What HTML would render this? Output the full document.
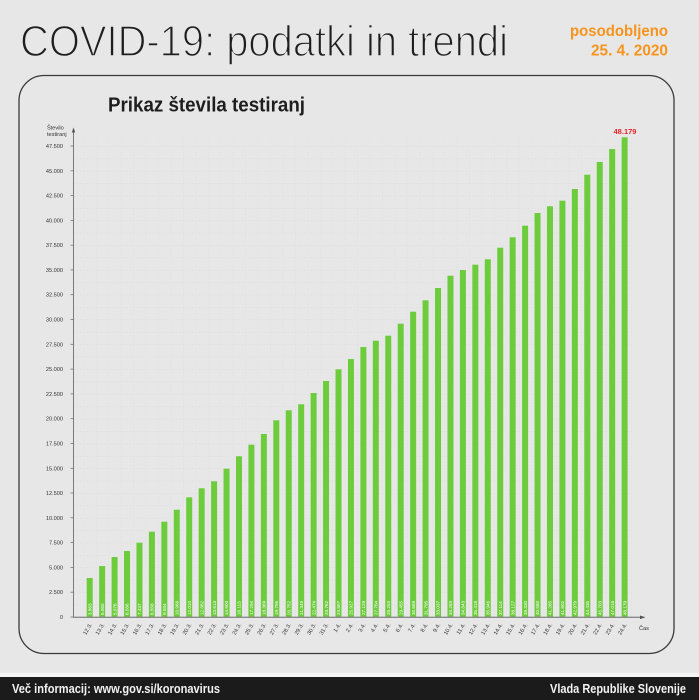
<!DOCTYPE html>
<html><head><meta charset="utf-8"><style>
html,body{margin:0;padding:0;background:#e7e7e7;}
svg{display:block;}
text{font-family:"Liberation Sans",sans-serif;}
.v{font-size:4.6px;fill:#ffffff;}
.d{font-size:5.6px;fill:#333;text-anchor:end;}
.y{font-size:5.6px;fill:#333;text-anchor:end;}
.b rect{fill:#6dcc3c;}
</style></head><body>
<svg width="699" height="700" viewBox="0 0 699 700" xmlns="http://www.w3.org/2000/svg">
<defs>
<pattern id="gp" patternUnits="userSpaceOnUse" x="95.92" y="617" width="12.44" height="12.395">
<line x1="0" y1="0.3" x2="12.44" y2="0.3" stroke="#d3d3d3" stroke-width="0.7" stroke-dasharray="0.8,2.3"/>
<line x1="0.3" y1="0" x2="0.3" y2="12.395" stroke="#d8d8d8" stroke-width="0.6" stroke-dasharray="0.8,2.3"/>
</pattern>
</defs>
<rect x="0" y="0" width="699" height="700" fill="#e7e7e7"/>

<!-- Header -->
<text x="20" y="56" font-size="44" fill="#1e1e1e" stroke="#e7e7e7" stroke-width="1.5" textLength="488" lengthAdjust="spacingAndGlyphs">COVID-19: podatki in trendi</text>
<text x="668" y="36" font-size="16" font-weight="bold" fill="#f7941d" text-anchor="end" textLength="98" lengthAdjust="spacingAndGlyphs">posodobljeno</text>
<text x="668" y="55.5" font-size="16" font-weight="bold" fill="#f7941d" text-anchor="end" textLength="77" lengthAdjust="spacingAndGlyphs">25. 4. 2020</text>

<!-- Card -->
<rect x="19" y="75.5" width="655" height="578" rx="25" ry="25" fill="none" stroke="#3a3a3a" stroke-width="1.3"/>
<text x="108" y="111.5" font-size="20" font-weight="bold" fill="#1e1e1e" textLength="197" lengthAdjust="spacingAndGlyphs">Prikaz števila testiranj</text>

<!-- Grid -->
<rect x="74" y="140" width="562" height="477" fill="url(#gp)"/>

<!-- Y axis -->
<line x1="73.5" y1="617" x2="73.5" y2="131" stroke="#7a7a7a" stroke-width="1"/>
<polygon points="73.5,127.5 71.8,132.5 75.2,132.5" fill="#555"/>
<text x="47" y="129.5" font-size="5.6" fill="#333">Število</text>
<text x="47" y="136" font-size="5.6" fill="#333">testiranj</text>
<g stroke="#777" stroke-width="0.8">
<line x1="70.5" y1="617" x2="73.5" y2="617"/><line x1="70.5" y1="592.2" x2="73.5" y2="592.2"/><line x1="70.5" y1="567.4" x2="73.5" y2="567.4"/><line x1="70.5" y1="542.6" x2="73.5" y2="542.6"/><line x1="70.5" y1="517.8" x2="73.5" y2="517.8"/><line x1="70.5" y1="493" x2="73.5" y2="493"/><line x1="70.5" y1="468.3" x2="73.5" y2="468.3"/><line x1="70.5" y1="443.5" x2="73.5" y2="443.5"/><line x1="70.5" y1="418.7" x2="73.5" y2="418.7"/><line x1="70.5" y1="393.9" x2="73.5" y2="393.9"/><line x1="70.5" y1="369.1" x2="73.5" y2="369.1"/><line x1="70.5" y1="344.3" x2="73.5" y2="344.3"/><line x1="70.5" y1="319.5" x2="73.5" y2="319.5"/><line x1="70.5" y1="294.7" x2="73.5" y2="294.7"/><line x1="70.5" y1="269.9" x2="73.5" y2="269.9"/><line x1="70.5" y1="245.2" x2="73.5" y2="245.2"/><line x1="70.5" y1="220.4" x2="73.5" y2="220.4"/><line x1="70.5" y1="195.6" x2="73.5" y2="195.6"/><line x1="70.5" y1="170.8" x2="73.5" y2="170.8"/><line x1="70.5" y1="146" x2="73.5" y2="146"/>
</g>
<g class="y">
<text x="63" y="619">0</text>
<text x="63" y="594.2">2.500</text>
<text x="63" y="569.4">5.000</text>
<text x="63" y="544.6">7.500</text>
<text x="63" y="519.8">10.000</text>
<text x="63" y="495">12.500</text>
<text x="63" y="470.3">15.000</text>
<text x="63" y="445.5">17.500</text>
<text x="63" y="420.7">20.000</text>
<text x="63" y="395.9">22.500</text>
<text x="63" y="371.1">25.000</text>
<text x="63" y="346.3">27.500</text>
<text x="63" y="321.5">30.000</text>
<text x="63" y="296.7">32.500</text>
<text x="63" y="271.9">35.000</text>
<text x="63" y="247.2">37.500</text>
<text x="63" y="222.4">40.000</text>
<text x="63" y="197.6">42.500</text>
<text x="63" y="172.8">45.000</text>
<text x="63" y="148">47.500</text>
</g>

<!-- Bars -->
<g class="b">
<g transform="translate(89.7,0)"><rect x="-3" y="578" width="6" height="39"/><text class="v" transform="translate(1.7,615) rotate(-90)">3.863</text><text class="d" transform="translate(2.5,624.5) rotate(-60)">12.3.</text></g>
<g transform="translate(102.14,0)"><rect x="-3" y="566" width="6" height="51"/><text class="v" transform="translate(1.7,615) rotate(-90)">5.060</text><text class="d" transform="translate(2.5,624.5) rotate(-60)">13.3.</text></g>
<g transform="translate(114.58,0)"><rect x="-3" y="557" width="6" height="60"/><text class="v" transform="translate(1.7,615) rotate(-90)">5.976</text><text class="d" transform="translate(2.5,624.5) rotate(-60)">14.3.</text></g>
<g transform="translate(127.02,0)"><rect x="-3" y="551" width="6" height="66"/><text class="v" transform="translate(1.7,615) rotate(-90)">6.566</text><text class="d" transform="translate(2.5,624.5) rotate(-60)">15.3.</text></g>
<g transform="translate(139.46,0)"><rect x="-3" y="542.7" width="6" height="74.3"/><text class="v" transform="translate(1.7,615) rotate(-90)">7.437</text><text class="d" transform="translate(2.5,624.5) rotate(-60)">16.3.</text></g>
<g transform="translate(151.9,0)"><rect x="-3" y="531.7" width="6" height="85.3"/><text class="v" transform="translate(1.7,615) rotate(-90)">8.558</text><text class="d" transform="translate(2.5,624.5) rotate(-60)">17.3.</text></g>
<g transform="translate(164.34,0)"><rect x="-3" y="521.7" width="6" height="95.3"/><text class="v" transform="translate(1.7,615) rotate(-90)">9.584</text><text class="d" transform="translate(2.5,624.5) rotate(-60)">18.3.</text></g>
<g transform="translate(176.78,0)"><rect x="-3" y="509.7" width="6" height="107.3"/><text class="v" transform="translate(1.7,615) rotate(-90)">10.968</text><text class="d" transform="translate(2.5,624.5) rotate(-60)">19.3.</text></g>
<g transform="translate(189.22,0)"><rect x="-3" y="497.3" width="6" height="119.7"/><text class="v" transform="translate(1.7,615) rotate(-90)">12.010</text><text class="d" transform="translate(2.5,624.5) rotate(-60)">20.3.</text></g>
<g transform="translate(201.66,0)"><rect x="-3" y="488.3" width="6" height="128.7"/><text class="v" transform="translate(1.7,615) rotate(-90)">12.882</text><text class="d" transform="translate(2.5,624.5) rotate(-60)">21.3.</text></g>
<g transform="translate(214.1,0)"><rect x="-3" y="481.3" width="6" height="135.7"/><text class="v" transform="translate(1.7,615) rotate(-90)">13.613</text><text class="d" transform="translate(2.5,624.5) rotate(-60)">22.3.</text></g>
<g transform="translate(226.54,0)"><rect x="-3" y="468.7" width="6" height="148.3"/><text class="v" transform="translate(1.7,615) rotate(-90)">14.800</text><text class="d" transform="translate(2.5,624.5) rotate(-60)">23.3.</text></g>
<g transform="translate(238.98,0)"><rect x="-3" y="456.3" width="6" height="160.7"/><text class="v" transform="translate(1.7,615) rotate(-90)">16.113</text><text class="d" transform="translate(2.5,624.5) rotate(-60)">24.3.</text></g>
<g transform="translate(251.42,0)"><rect x="-3" y="444.7" width="6" height="172.3"/><text class="v" transform="translate(1.7,615) rotate(-90)">17.294</text><text class="d" transform="translate(2.5,624.5) rotate(-60)">25.3.</text></g>
<g transform="translate(263.86,0)"><rect x="-3" y="434" width="6" height="183"/><text class="v" transform="translate(1.7,615) rotate(-90)">18.369</text><text class="d" transform="translate(2.5,624.5) rotate(-60)">26.3.</text></g>
<g transform="translate(276.3,0)"><rect x="-3" y="420.3" width="6" height="196.7"/><text class="v" transform="translate(1.7,615) rotate(-90)">19.756</text><text class="d" transform="translate(2.5,624.5) rotate(-60)">27.3.</text></g>
<g transform="translate(288.74,0)"><rect x="-3" y="410.3" width="6" height="206.7"/><text class="v" transform="translate(1.7,615) rotate(-90)">20.752</text><text class="d" transform="translate(2.5,624.5) rotate(-60)">28.3.</text></g>
<g transform="translate(301.18,0)"><rect x="-3" y="404.3" width="6" height="212.7"/><text class="v" transform="translate(1.7,615) rotate(-90)">21.349</text><text class="d" transform="translate(2.5,624.5) rotate(-60)">29.3.</text></g>
<g transform="translate(313.62,0)"><rect x="-3" y="393" width="6" height="224"/><text class="v" transform="translate(1.7,615) rotate(-90)">22.474</text><text class="d" transform="translate(2.5,624.5) rotate(-60)">30.3.</text></g>
<g transform="translate(326.06,0)"><rect x="-3" y="381" width="6" height="236"/><text class="v" transform="translate(1.7,615) rotate(-90)">23.762</text><text class="d" transform="translate(2.5,624.5) rotate(-60)">31.3.</text></g>
<g transform="translate(338.5,0)"><rect x="-3" y="369.3" width="6" height="247.7"/><text class="v" transform="translate(1.7,615) rotate(-90)">24.857</text><text class="d" transform="translate(2.5,624.5) rotate(-60)">1.4.</text></g>
<g transform="translate(350.94,0)"><rect x="-3" y="359" width="6" height="258"/><text class="v" transform="translate(1.7,615) rotate(-90)">25.927</text><text class="d" transform="translate(2.5,624.5) rotate(-60)">2.4.</text></g>
<g transform="translate(363.38,0)"><rect x="-3" y="347" width="6" height="270"/><text class="v" transform="translate(1.7,615) rotate(-90)">27.129</text><text class="d" transform="translate(2.5,624.5) rotate(-60)">3.4.</text></g>
<g transform="translate(375.82,0)"><rect x="-3" y="340.7" width="6" height="276.3"/><text class="v" transform="translate(1.7,615) rotate(-90)">27.764</text><text class="d" transform="translate(2.5,624.5) rotate(-60)">4.4.</text></g>
<g transform="translate(388.26,0)"><rect x="-3" y="335.7" width="6" height="281.3"/><text class="v" transform="translate(1.7,615) rotate(-90)">28.253</text><text class="d" transform="translate(2.5,624.5) rotate(-60)">5.4.</text></g>
<g transform="translate(400.7,0)"><rect x="-3" y="323.7" width="6" height="293.3"/><text class="v" transform="translate(1.7,615) rotate(-90)">29.455</text><text class="d" transform="translate(2.5,624.5) rotate(-60)">6.4.</text></g>
<g transform="translate(413.14,0)"><rect x="-3" y="311.7" width="6" height="305.3"/><text class="v" transform="translate(1.7,615) rotate(-90)">30.669</text><text class="d" transform="translate(2.5,624.5) rotate(-60)">7.4.</text></g>
<g transform="translate(425.58,0)"><rect x="-3" y="300.3" width="6" height="316.7"/><text class="v" transform="translate(1.7,615) rotate(-90)">31.795</text><text class="d" transform="translate(2.5,624.5) rotate(-60)">8.4.</text></g>
<g transform="translate(438.02,0)"><rect x="-3" y="288" width="6" height="329"/><text class="v" transform="translate(1.7,615) rotate(-90)">33.037</text><text class="d" transform="translate(2.5,624.5) rotate(-60)">9.4.</text></g>
<g transform="translate(450.46,0)"><rect x="-3" y="275.7" width="6" height="341.3"/><text class="v" transform="translate(1.7,615) rotate(-90)">34.283</text><text class="d" transform="translate(2.5,624.5) rotate(-60)">10.4.</text></g>
<g transform="translate(462.9,0)"><rect x="-3" y="270" width="6" height="347"/><text class="v" transform="translate(1.7,615) rotate(-90)">34.843</text><text class="d" transform="translate(2.5,624.5) rotate(-60)">11.4.</text></g>
<g transform="translate(475.34,0)"><rect x="-3" y="264.7" width="6" height="352.3"/><text class="v" transform="translate(1.7,615) rotate(-90)">35.418</text><text class="d" transform="translate(2.5,624.5) rotate(-60)">12.4.</text></g>
<g transform="translate(487.78,0)"><rect x="-3" y="259.3" width="6" height="357.7"/><text class="v" transform="translate(1.7,615) rotate(-90)">35.946</text><text class="d" transform="translate(2.5,624.5) rotate(-60)">13.4.</text></g>
<g transform="translate(500.22,0)"><rect x="-3" y="247.7" width="6" height="369.3"/><text class="v" transform="translate(1.7,615) rotate(-90)">37.114</text><text class="d" transform="translate(2.5,624.5) rotate(-60)">14.4.</text></g>
<g transform="translate(512.66,0)"><rect x="-3" y="237.3" width="6" height="379.7"/><text class="v" transform="translate(1.7,615) rotate(-90)">38.127</text><text class="d" transform="translate(2.5,624.5) rotate(-60)">15.4.</text></g>
<g transform="translate(525.1,0)"><rect x="-3" y="225.7" width="6" height="391.3"/><text class="v" transform="translate(1.7,615) rotate(-90)">39.330</text><text class="d" transform="translate(2.5,624.5) rotate(-60)">16.4.</text></g>
<g transform="translate(537.54,0)"><rect x="-3" y="213" width="6" height="404"/><text class="v" transform="translate(1.7,615) rotate(-90)">40.580</text><text class="d" transform="translate(2.5,624.5) rotate(-60)">17.4.</text></g>
<g transform="translate(549.98,0)"><rect x="-3" y="206.3" width="6" height="410.7"/><text class="v" transform="translate(1.7,615) rotate(-90)">41.265</text><text class="d" transform="translate(2.5,624.5) rotate(-60)">18.4.</text></g>
<g transform="translate(562.42,0)"><rect x="-3" y="200.7" width="6" height="416.3"/><text class="v" transform="translate(1.7,615) rotate(-90)">41.802</text><text class="d" transform="translate(2.5,624.5) rotate(-60)">19.4.</text></g>
<g transform="translate(574.86,0)"><rect x="-3" y="189" width="6" height="428"/><text class="v" transform="translate(1.7,615) rotate(-90)">42.979</text><text class="d" transform="translate(2.5,624.5) rotate(-60)">20.4.</text></g>
<g transform="translate(587.3,0)"><rect x="-3" y="174.7" width="6" height="442.3"/><text class="v" transform="translate(1.7,615) rotate(-90)">44.435</text><text class="d" transform="translate(2.5,624.5) rotate(-60)">21.4.</text></g>
<g transform="translate(599.74,0)"><rect x="-3" y="162" width="6" height="455"/><text class="v" transform="translate(1.7,615) rotate(-90)">45.703</text><text class="d" transform="translate(2.5,624.5) rotate(-60)">22.4.</text></g>
<g transform="translate(612.18,0)"><rect x="-3" y="149" width="6" height="468"/><text class="v" transform="translate(1.7,615) rotate(-90)">47.018</text><text class="d" transform="translate(2.5,624.5) rotate(-60)">23.4.</text></g>
<g transform="translate(624.62,0)"><rect x="-3" y="137.3" width="6" height="479.7"/><text class="v" transform="translate(1.7,615) rotate(-90)">48.179</text><text class="d" transform="translate(2.5,624.5) rotate(-60)">24.4.</text></g>
</g>
<text x="625" y="134" font-size="7.5" font-weight="bold" fill="#e8212b" text-anchor="middle" textLength="23" lengthAdjust="spacingAndGlyphs">48.179</text>

<!-- X axis -->
<line x1="73" y1="617.3" x2="641" y2="617.3" stroke="#8a8a8a" stroke-width="1.3"/>
<polygon points="645.5,617.3 640,615.5 640,619.1" fill="#555"/>
<text x="644" y="630" font-size="5.6" fill="#333" text-anchor="middle">Čas</text>

<!-- Footer -->
<rect x="0" y="673" width="699" height="4" fill="#f4f4f4"/>
<rect x="0" y="677" width="699" height="23" fill="#1b1b1b"/>
<text x="12" y="693" font-size="13" font-weight="bold" fill="#f2f2f2" textLength="208" lengthAdjust="spacingAndGlyphs">Več informacij: www.gov.si/koronavirus</text>
<text x="686" y="693" font-size="13" font-weight="bold" fill="#f2f2f2" text-anchor="end" textLength="136" lengthAdjust="spacingAndGlyphs">Vlada Republike Slovenije</text>
</svg>
</body></html>
